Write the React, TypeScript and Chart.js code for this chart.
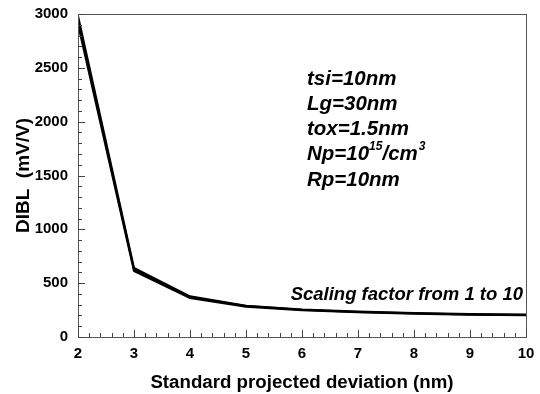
import React, { useEffect, useRef } from "react";
import { Chart, registerables } from "chart.js";

Chart.register(...registerables);

const deviation = [2, 3, 4, 5, 6, 7, 8, 9, 10];
const dibl1 = [2985, 642, 378, 291, 256, 236, 223, 213, 208];
const dibl5 = [2945, 627, 370, 287, 252, 232, 220, 210, 205];
const dibl10 = [2905, 612, 362, 282, 248, 229, 217, 207, 202];
const paramLines = ["tsi=10nm", "Lg=30nm", "tox=1.5nm", "Np=10", "Rp=10nm"];
const sweepLabel = "Scaling factor from 1 to 10";
const xTitle = "Standard projected deviation (nm)";
const yTitle = "DIBL  (mV/V)";

const FONT = "'Liberation Sans', Arial, sans-serif";

const framePlugin = {
  id: "frame",
  afterDraw(chart: any) {
    const { ctx, chartArea, scales } = chart;
    const { left, right, top, bottom } = chartArea;
    const xs = scales.x;
    const ys = scales.y;
    ctx.save();
    ctx.strokeStyle = "#555";
    ctx.lineWidth = 1;
    ctx.strokeRect(left + 0.5, top + 0.5, right - left, bottom - top);
    ctx.strokeStyle = "#444";
    for (let v = 2; v <= 10.0001; v += 0.2) {
      const major = Math.abs(v - Math.round(v)) < 1e-6;
      const px = Math.round(xs.getPixelForValue(v)) + 0.5;
      ctx.beginPath();
      ctx.moveTo(px, bottom);
      ctx.lineTo(px, bottom - (major ? 7 : 4));
      ctx.stroke();
    }
    for (let v = 0; v <= 3000; v += 100) {
      const major = v % 500 === 0;
      const py = Math.round(ys.getPixelForValue(v)) + 0.5;
      ctx.beginPath();
      ctx.moveTo(left, py);
      ctx.lineTo(left + (major ? 7 : 4), py);
      ctx.stroke();
    }
    ctx.fillStyle = "#000";
    ctx.save();
    ctx.translate(24, (top + bottom) / 2);
    ctx.rotate(-Math.PI / 2);
    ctx.font = `bold 19px ${FONT}`;
    ctx.textAlign = "center";
    ctx.textBaseline = "middle";
    ctx.fillText(yTitle, 0, 0);
    ctx.restore();
    ctx.textBaseline = "alphabetic";
    ctx.textAlign = "left";
    const f = `italic bold 20.5px ${FONT}`;
    const fs = `italic bold 12px ${FONT}`;
    const x0 = left + 229;
    const y0 = top + 70.5;
    paramLines.forEach((t, i) => {
      const y = y0 + i * 25.3;
      ctx.font = f;
      ctx.fillText(t, x0, y);
      if (t === "Np=10") {
        const w = ctx.measureText(t).width;
        ctx.font = fs;
        ctx.fillText("15", x0 + w, y - 10);
        const w2 = ctx.measureText("15").width;
        ctx.font = f;
        ctx.fillText("/cm", x0 + w + w2, y);
        const w3 = ctx.measureText("/cm").width;
        ctx.font = fs;
        ctx.fillText("3", x0 + w + w2 + w3 + 1, y - 10);
      }
    });
    ctx.font = `italic bold 18.5px ${FONT}`;
    ctx.textAlign = "right";
    ctx.fillText(sweepLabel, right - 3, top + 286);
    ctx.restore();
  },
};

const zeroPad = (s: any) => {
  s.paddingTop = 0;
  s.paddingBottom = 0;
  s.paddingLeft = 0;
  s.paddingRight = 0;
};

export default function App() {
  const ref = useRef<HTMLCanvasElement>(null);
  useEffect(() => {
    document.body.style.margin = "0";
    const mk = (data: number[]) => ({
      data: deviation.map((x, i) => ({ x, y: data[i] })),
      borderColor: "#000",
      backgroundColor: "#000",
      borderWidth: 2,
      pointRadius: 0,
      tension: 0,
    });
    const chart = new Chart(ref.current!, {
      type: "line",
      data: { datasets: [mk(dibl1), mk(dibl5), mk(dibl10)] },
      options: {
        animation: false,
        responsive: false,
        maintainAspectRatio: false,
        layout: { padding: { top: 14, right: 14, left: 0, bottom: 0 } },
        plugins: { legend: { display: false }, tooltip: { enabled: false } },
        scales: {
          x: {
            type: "linear",
            min: 2,
            max: 10,
            grid: { display: false, drawTicks: false },
            border: { display: false },
            ticks: {
              stepSize: 1,
              padding: 8,
              color: "#000",
              font: { family: FONT, size: 15, weight: "bold" },
              callback: (v: any) => String(v),
            },
            title: {
              display: true,
              text: xTitle,
              color: "#000",
              font: { family: FONT, size: 18.7, weight: "bold" },
              padding: { top: 5, bottom: 0 },
            },
            afterFit(s: any) {
              s.height = 57;
              zeroPad(s);
            },
          },
          y: {
            type: "linear",
            min: 0,
            max: 3000,
            grid: { display: false, drawTicks: false },
            border: { display: false },
            ticks: {
              stepSize: 500,
              padding: 10,
              color: "#000",
              font: { family: FONT, size: 15, weight: "bold" },
              callback: (v: any) => String(v),
            },
            title: { display: false },
            afterFit(s: any) {
              s.width = 78;
              zeroPad(s);
            },
          },
        },
      } as any,
      plugins: [framePlugin],
    });
    return () => chart.destroy();
  }, []);
  return (
    <div style={{ position: "absolute", left: 0, top: 0, width: 540, height: 394, background: "#fff" }}>
      <canvas ref={ref} width={540} height={394} style={{ width: 540, height: 394 }} />
    </div>
  );
}
